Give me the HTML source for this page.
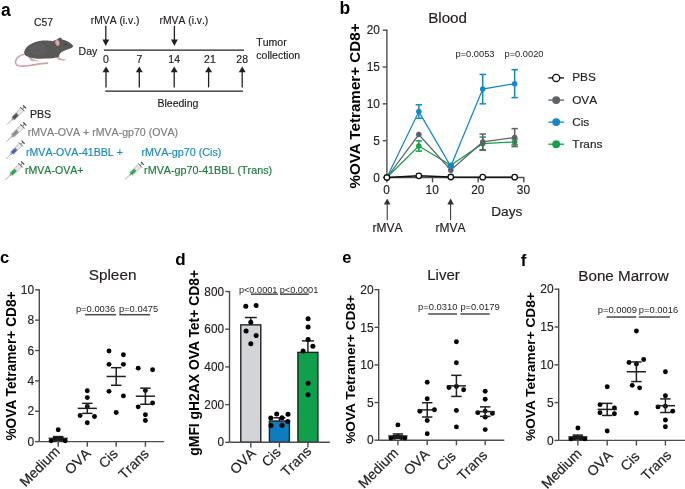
<!DOCTYPE html>
<html><head><meta charset="utf-8"><title>Figure</title>
<style>
html,body{margin:0;padding:0;background:#fff;}
body{width:685px;height:489px;overflow:hidden;}
svg{display:block;will-change:transform;}
svg text{font-family:"Liberation Sans", sans-serif;font-kerning:none;font-feature-settings:"kern" 0;}
</style></head>
<body>
<svg width="685" height="489" viewBox="0 0 685 489">
<rect width="685" height="489" fill="#fff"/>
<text x="1" y="16.1" font-size="17.5" text-anchor="start" font-weight="bold" fill="#000" >a</text>
<text x="34.0" y="26.1" font-size="10.3" text-anchor="start" font-weight="normal" fill="#231f20" stroke="#231f20" stroke-width="0.18" >C57</text>

<g>
<path d="M24,54.3 C21,55 17.5,57 16,59.8 C14.8,62.3 15.8,65 18.5,65.8 C22,66.6 27,65.8 31,65.3 C36,64.5 42,63.4 47.5,63.1" fill="none" stroke="#cfa1a3" stroke-width="1.6" stroke-linecap="round"/>
<path d="M28.5,56.5 C29,58.5 29.8,60 31,60.8 L35,61.3 L38.8,61.4 L38.8,60.6 L35.5,60.2 L33,59 C32,58 31.5,57.3 31.5,56.8 Z" fill="#d5a8a9"/>
<path d="M56.2,57 C56.8,58.6 58,59.8 60,60.3 L63.5,60.5 L65.8,60 L65.6,59.2 L62.5,59 C60.5,58.8 59.5,57.8 59,56.5 Z" fill="#d5a8a9"/>
<path d="M24.2,51.9 C24.6,49 27,46 30.6,44.2 C33.5,42.5 37,41.2 41,40.8 C45,40.4 49.5,40.6 52.5,41.2 C54,40.6 55.5,39.8 57.2,39.5 C58.3,38 59.8,37.4 61.2,37.9 C62,38.4 62,39.2 61.8,39.6 C65,40.2 68.5,41.5 70.8,43.5 C72.2,44.5 73.2,45.3 73.1,46.2 C72.8,47.3 71.5,48 69.5,48.8 C66.5,49.8 63,51 61,52.5 C59.8,53.7 59.2,55 58.8,56.8 C58,57.6 56.8,57.6 55.8,57.4 C55,57.8 53.5,58.1 52,58.2 C49,58.5 46.5,58.2 44,58.6 C40,59 35,58.8 31.5,57.8 C28,57 25.5,55.8 24.6,54.5 C24.2,53.7 24.1,52.8 24.2,51.9 Z" fill="#585858"/>
<ellipse cx="38.5" cy="49.6" rx="8.5" ry="6.2" fill="#5d5d5d"/>
<ellipse cx="57.4" cy="42.9" rx="2.1" ry="2.9" transform="rotate(-15 57.4 42.9)" fill="#d9a7aa"/>
<circle cx="65.8" cy="44.4" r="0.7" fill="#1e1e1e"/>
<circle cx="72.9" cy="46.0" r="0.6" fill="#b89090"/>
<path d="M72.6,45 L75.5,41.5 M72.8,45.3 L76,43" stroke="#dddddd" stroke-width="0.3"/>
</g>
<text x="90.8" y="24.0" font-size="10.3" text-anchor="start" font-weight="normal" fill="#231f20" stroke="#231f20" stroke-width="0.18" >rMVA (i.v.)</text>
<text x="159.6" y="24.0" font-size="10.3" text-anchor="start" font-weight="normal" fill="#231f20" stroke="#231f20" stroke-width="0.18" >rMVA (i.v.)</text>
<line x1="105.8" y1="25.8" x2="105.8" y2="40.0" stroke="#231f20" stroke-width="1.3" />
<path d="M102.39999999999999,39.5 L109.2,39.5 L105.8,46.0 Z" fill="#231f20" stroke="none" stroke-width="0" />
<line x1="174.4" y1="25.8" x2="174.4" y2="40.0" stroke="#231f20" stroke-width="1.3" />
<path d="M171.0,39.5 L177.8,39.5 L174.4,46.0 Z" fill="#231f20" stroke="none" stroke-width="0" />
<line x1="104" y1="50.2" x2="244" y2="50.2" stroke="#231f20" stroke-width="1.3" />
<text x="78.6" y="54.6" font-size="10.5" text-anchor="start" font-weight="normal" fill="#231f20" stroke="#231f20" stroke-width="0.18" >Day</text>
<text x="106.0" y="63.4" font-size="10.5" text-anchor="middle" font-weight="normal" fill="#231f20" stroke="#231f20" stroke-width="0.18" >0</text>
<line x1="106.0" y1="71.8" x2="106.0" y2="87.4" stroke="#231f20" stroke-width="1.3" />
<path d="M102.55,72.3 L109.45,72.3 L106.0,66.5 Z" fill="#231f20" stroke="none" stroke-width="0" />
<text x="139.3" y="63.4" font-size="10.5" text-anchor="middle" font-weight="normal" fill="#231f20" stroke="#231f20" stroke-width="0.18" >7</text>
<line x1="139.3" y1="71.8" x2="139.3" y2="87.4" stroke="#231f20" stroke-width="1.3" />
<path d="M135.85000000000002,72.3 L142.75,72.3 L139.3,66.5 Z" fill="#231f20" stroke="none" stroke-width="0" />
<text x="174.2" y="63.4" font-size="10.5" text-anchor="middle" font-weight="normal" fill="#231f20" stroke="#231f20" stroke-width="0.18" >14</text>
<line x1="174.2" y1="71.8" x2="174.2" y2="87.4" stroke="#231f20" stroke-width="1.3" />
<path d="M170.75,72.3 L177.64999999999998,72.3 L174.2,66.5 Z" fill="#231f20" stroke="none" stroke-width="0" />
<text x="209.9" y="63.4" font-size="10.5" text-anchor="middle" font-weight="normal" fill="#231f20" stroke="#231f20" stroke-width="0.18" >21</text>
<line x1="208.6" y1="71.8" x2="208.6" y2="87.4" stroke="#231f20" stroke-width="1.3" />
<path d="M205.15,72.3 L212.04999999999998,72.3 L208.6,66.5 Z" fill="#231f20" stroke="none" stroke-width="0" />
<text x="242.2" y="63.4" font-size="10.5" text-anchor="middle" font-weight="normal" fill="#231f20" stroke="#231f20" stroke-width="0.18" >28</text>
<line x1="242.2" y1="71.8" x2="242.2" y2="87.4" stroke="#231f20" stroke-width="1.3" />
<path d="M238.75,72.3 L245.64999999999998,72.3 L242.2,66.5 Z" fill="#231f20" stroke="none" stroke-width="0" />
<line x1="105.2" y1="91.1" x2="243" y2="91.1" stroke="#231f20" stroke-width="1.3" />
<text x="157.5" y="106.9" font-size="10.5" text-anchor="start" font-weight="normal" fill="#231f20" stroke="#231f20" stroke-width="0.18" >Bleeding</text>
<text x="256.3" y="46.2" font-size="10.5" text-anchor="start" font-weight="normal" fill="#231f20" stroke="#231f20" stroke-width="0.18" >Tumor</text>
<text x="256.3" y="59.3" font-size="10.5" text-anchor="start" font-weight="normal" fill="#231f20" stroke="#231f20" stroke-width="0.18" >collection</text>
<g transform="translate(7.20,124.60) rotate(-45.62) scale(1.074)"><line x1="0" y1="0" x2="7" y2="0" stroke="#8a8a8a" stroke-width="0.65"/><rect x="6.3" y="-0.85" width="1.6" height="1.7" fill="#999"/><rect x="7.8" y="-1.85" width="12.2" height="3.7" fill="#efefef" stroke="#9c9c9c" stroke-width="0.5"/><rect x="8.0" y="-1.6" width="5.0" height="3.2" fill="#505050"/><rect x="13.0" y="-1.6" width="0.8" height="3.2" fill="#666"/><line x1="14.8" y1="-1.85" x2="14.8" y2="0.2" stroke="#aaa" stroke-width="0.35"/><line x1="16.3" y1="-1.85" x2="16.3" y2="0.2" stroke="#aaa" stroke-width="0.35"/><line x1="17.8" y1="-1.85" x2="17.8" y2="0.2" stroke="#aaa" stroke-width="0.35"/><line x1="20.1" y1="-2.8" x2="20.1" y2="2.8" stroke="#6a6a6a" stroke-width="0.9"/><line x1="20.1" y1="0" x2="22.8" y2="0" stroke="#808080" stroke-width="0.9"/><line x1="23.1" y1="-2.1" x2="23.1" y2="2.1" stroke="#555" stroke-width="1.2"/></g>
<text x="29.9" y="117.9" font-size="10.6" text-anchor="start" font-weight="normal" fill="#231f20" stroke="#231f20" stroke-width="0.18" >PBS</text>
<g transform="translate(6.50,141.70) rotate(-44.10) scale(1.103)"><line x1="0" y1="0" x2="7" y2="0" stroke="#8a8a8a" stroke-width="0.65"/><rect x="6.3" y="-0.85" width="1.6" height="1.7" fill="#999"/><rect x="7.8" y="-1.85" width="12.2" height="3.7" fill="#efefef" stroke="#9c9c9c" stroke-width="0.5"/><rect x="8.0" y="-1.6" width="5.0" height="3.2" fill="#909090"/><rect x="13.0" y="-1.6" width="0.8" height="3.2" fill="#666"/><line x1="14.8" y1="-1.85" x2="14.8" y2="0.2" stroke="#aaa" stroke-width="0.35"/><line x1="16.3" y1="-1.85" x2="16.3" y2="0.2" stroke="#aaa" stroke-width="0.35"/><line x1="17.8" y1="-1.85" x2="17.8" y2="0.2" stroke="#aaa" stroke-width="0.35"/><line x1="20.1" y1="-2.8" x2="20.1" y2="2.8" stroke="#6a6a6a" stroke-width="0.9"/><line x1="20.1" y1="0" x2="22.8" y2="0" stroke="#808080" stroke-width="0.9"/><line x1="23.1" y1="-2.1" x2="23.1" y2="2.1" stroke="#555" stroke-width="1.2"/></g>
<text x="27.7" y="135.8" font-size="10.6" text-anchor="start" font-weight="normal" fill="#7f7f7f" stroke="#7f7f7f" stroke-width="0.18" >rMVA-OVA + rMVA-gp70 (OVA)</text>
<g transform="translate(6.20,158.90) rotate(-44.68) scale(1.027)"><line x1="0" y1="0" x2="7" y2="0" stroke="#8a8a8a" stroke-width="0.65"/><rect x="6.3" y="-0.85" width="1.6" height="1.7" fill="#999"/><rect x="7.8" y="-1.85" width="12.2" height="3.7" fill="#efefef" stroke="#9c9c9c" stroke-width="0.5"/><rect x="8.0" y="-1.6" width="5.0" height="3.2" fill="#4862c2"/><rect x="13.0" y="-1.6" width="0.8" height="3.2" fill="#666"/><line x1="14.8" y1="-1.85" x2="14.8" y2="0.2" stroke="#aaa" stroke-width="0.35"/><line x1="16.3" y1="-1.85" x2="16.3" y2="0.2" stroke="#aaa" stroke-width="0.35"/><line x1="17.8" y1="-1.85" x2="17.8" y2="0.2" stroke="#aaa" stroke-width="0.35"/><line x1="20.1" y1="-2.8" x2="20.1" y2="2.8" stroke="#6a6a6a" stroke-width="0.9"/><line x1="20.1" y1="0" x2="22.8" y2="0" stroke="#808080" stroke-width="0.9"/><line x1="23.1" y1="-2.1" x2="23.1" y2="2.1" stroke="#555" stroke-width="1.2"/></g>
<text x="26.0" y="156.0" font-size="10.6" text-anchor="start" font-weight="normal" fill="#1e88c4" stroke="#1e88c4" stroke-width="0.18" >rMVA-OVA-41BBL +</text>
<text x="141.5" y="155.8" font-size="10.72" text-anchor="start" font-weight="normal" fill="#1e88c4" stroke="#1e88c4" stroke-width="0.18" >rMVA-gp70 (Cis)</text>
<g transform="translate(5.20,180.00) rotate(-44.06) scale(1.056)"><line x1="0" y1="0" x2="7" y2="0" stroke="#8a8a8a" stroke-width="0.65"/><rect x="6.3" y="-0.85" width="1.6" height="1.7" fill="#999"/><rect x="7.8" y="-1.85" width="12.2" height="3.7" fill="#efefef" stroke="#9c9c9c" stroke-width="0.5"/><rect x="8.0" y="-1.6" width="5.0" height="3.2" fill="#21b04b"/><rect x="13.0" y="-1.6" width="0.8" height="3.2" fill="#666"/><line x1="14.8" y1="-1.85" x2="14.8" y2="0.2" stroke="#aaa" stroke-width="0.35"/><line x1="16.3" y1="-1.85" x2="16.3" y2="0.2" stroke="#aaa" stroke-width="0.35"/><line x1="17.8" y1="-1.85" x2="17.8" y2="0.2" stroke="#aaa" stroke-width="0.35"/><line x1="20.1" y1="-2.8" x2="20.1" y2="2.8" stroke="#6a6a6a" stroke-width="0.9"/><line x1="20.1" y1="0" x2="22.8" y2="0" stroke="#808080" stroke-width="0.9"/><line x1="23.1" y1="-2.1" x2="23.1" y2="2.1" stroke="#555" stroke-width="1.2"/></g>
<text x="24.9" y="173.9" font-size="10.6" text-anchor="start" font-weight="normal" fill="#1f7a3f" stroke="#1f7a3f" stroke-width="0.18" >rMVA-OVA+</text>
<g transform="translate(125.00,179.40) rotate(-42.74) scale(1.022)"><line x1="0" y1="0" x2="7" y2="0" stroke="#8a8a8a" stroke-width="0.65"/><rect x="6.3" y="-0.85" width="1.6" height="1.7" fill="#999"/><rect x="7.8" y="-1.85" width="12.2" height="3.7" fill="#efefef" stroke="#9c9c9c" stroke-width="0.5"/><rect x="8.0" y="-1.6" width="5.0" height="3.2" fill="#21b04b"/><rect x="13.0" y="-1.6" width="0.8" height="3.2" fill="#666"/><line x1="14.8" y1="-1.85" x2="14.8" y2="0.2" stroke="#aaa" stroke-width="0.35"/><line x1="16.3" y1="-1.85" x2="16.3" y2="0.2" stroke="#aaa" stroke-width="0.35"/><line x1="17.8" y1="-1.85" x2="17.8" y2="0.2" stroke="#aaa" stroke-width="0.35"/><line x1="20.1" y1="-2.8" x2="20.1" y2="2.8" stroke="#6a6a6a" stroke-width="0.9"/><line x1="20.1" y1="0" x2="22.8" y2="0" stroke="#808080" stroke-width="0.9"/><line x1="23.1" y1="-2.1" x2="23.1" y2="2.1" stroke="#555" stroke-width="1.2"/></g>
<text x="144.1" y="174.2" font-size="10.77" text-anchor="start" font-weight="normal" fill="#1f7a3f" stroke="#1f7a3f" stroke-width="0.18" >rMVA-gp70-41BBL (Trans)</text>
<text x="339.5" y="14.0" font-size="17.5" text-anchor="start" font-weight="bold" fill="#000" >b</text>
<text x="447.6" y="22.9" font-size="15.2" text-anchor="middle" font-weight="normal" fill="#231f20" stroke="#231f20" stroke-width="0.18" >Blood</text>
<line x1="386.9" y1="29.599999999999987" x2="386.9" y2="177.5" stroke="#4d4d4f" stroke-width="1.4" />
<line x1="382.7" y1="177.5" x2="386.9" y2="177.5" stroke="#4d4d4f" stroke-width="1.4" />
<text x="0" y="0" font-size="11.9" text-anchor="end" fill="#231f20" stroke="#231f20" stroke-width="0.16" transform="translate(379.90,181.66) scale(1,1.14)">0</text>
<line x1="382.7" y1="140.675" x2="386.9" y2="140.675" stroke="#4d4d4f" stroke-width="1.4" />
<text x="0" y="0" font-size="11.9" text-anchor="end" fill="#231f20" stroke="#231f20" stroke-width="0.16" transform="translate(379.90,144.83) scale(1,1.14)">5</text>
<line x1="382.7" y1="103.85" x2="386.9" y2="103.85" stroke="#4d4d4f" stroke-width="1.4" />
<text x="0" y="0" font-size="11.9" text-anchor="end" fill="#231f20" stroke="#231f20" stroke-width="0.16" transform="translate(379.90,108.01) scale(1,1.14)">10</text>
<line x1="382.7" y1="67.02499999999999" x2="386.9" y2="67.02499999999999" stroke="#4d4d4f" stroke-width="1.4" />
<text x="0" y="0" font-size="11.9" text-anchor="end" fill="#231f20" stroke="#231f20" stroke-width="0.16" transform="translate(379.90,71.18) scale(1,1.14)">15</text>
<line x1="382.7" y1="30.19999999999999" x2="386.9" y2="30.19999999999999" stroke="#4d4d4f" stroke-width="1.4" />
<text x="0" y="0" font-size="11.9" text-anchor="end" fill="#231f20" stroke="#231f20" stroke-width="0.16" transform="translate(379.90,34.36) scale(1,1.14)">20</text>
<line x1="386.9" y1="177.5" x2="524.39" y2="177.5" stroke="#4d4d4f" stroke-width="1.4" />
<line x1="386.9" y1="177.5" x2="386.9" y2="182.4" stroke="#4d4d4f" stroke-width="1.4" />
<text x="0" y="0" font-size="11.9" text-anchor="middle" fill="#231f20" stroke="#231f20" stroke-width="0.16" transform="translate(386.60,194.16) scale(1,1.14)">0</text>
<line x1="432.53" y1="177.5" x2="432.53" y2="182.4" stroke="#4d4d4f" stroke-width="1.4" />
<text x="0" y="0" font-size="11.9" text-anchor="middle" fill="#231f20" stroke="#231f20" stroke-width="0.16" transform="translate(432.23,194.16) scale(1,1.14)">10</text>
<line x1="478.15999999999997" y1="177.5" x2="478.15999999999997" y2="182.4" stroke="#4d4d4f" stroke-width="1.4" />
<text x="0" y="0" font-size="11.9" text-anchor="middle" fill="#231f20" stroke="#231f20" stroke-width="0.16" transform="translate(477.86,194.16) scale(1,1.14)">20</text>
<line x1="523.79" y1="177.5" x2="523.79" y2="182.4" stroke="#4d4d4f" stroke-width="1.4" />
<text x="0" y="0" font-size="11.9" text-anchor="middle" fill="#231f20" stroke="#231f20" stroke-width="0.16" transform="translate(523.49,194.16) scale(1,1.14)">30</text>
<text x="491.3" y="215.9" font-size="13.6" text-anchor="start" font-weight="normal" fill="#231f20" stroke="#231f20" stroke-width="0.18" >Days</text>
<text x="0" y="0" font-size="15.2" text-anchor="middle" font-weight="bold" fill="#000" style="font-kerning:normal;font-feature-settings:normal" transform="translate(359.7,106.0) rotate(-90)">%OVA Tetramer+ CD8+</text>
<line x1="387.2" y1="204.1" x2="387.2" y2="220.0" stroke="#333" stroke-width="1.05" />
<path d="M383.9,204.6 L390.5,204.6 L387.2,198.6 Z" fill="#333" stroke="none" stroke-width="0" />
<line x1="450.6" y1="204.1" x2="450.6" y2="220.0" stroke="#333" stroke-width="1.05" />
<path d="M447.3,204.6 L453.90000000000003,204.6 L450.6,198.6 Z" fill="#333" stroke="none" stroke-width="0" />
<text x="387.4" y="232.4" font-size="12.0" text-anchor="middle" font-weight="normal" fill="#231f20" stroke="#231f20" stroke-width="0.18" >rMVA</text>
<text x="450.5" y="232.4" font-size="12.0" text-anchor="middle" font-weight="normal" fill="#231f20" stroke="#231f20" stroke-width="0.18" >rMVA</text>
<text x="455.5" y="57.3" font-size="9.3" text-anchor="start" font-weight="normal" fill="#231f20" >p=0.0053</text>
<text x="504.5" y="56.6" font-size="9.3" text-anchor="start" font-weight="normal" fill="#231f20" >p=0.0020</text>
<polyline points="386.90,177.50 418.84,145.98 450.78,165.35 482.72,143.69 514.66,141.93" fill="none" stroke="#17a049" stroke-width="1.25"/>
<circle cx="386.9" cy="177.5" r="2.75" fill="#17a049" stroke="none" stroke-width="0"/>
<line x1="418.84099999999995" y1="140.82229999999998" x2="418.84099999999995" y2="151.1333" stroke="#17a049" stroke-width="1.5" />
<line x1="415.64099999999996" y1="140.82229999999998" x2="422.04099999999994" y2="140.82229999999998" stroke="#17a049" stroke-width="1.5" />
<line x1="415.64099999999996" y1="151.1333" x2="422.04099999999994" y2="151.1333" stroke="#17a049" stroke-width="1.5" />
<circle cx="418.84099999999995" cy="145.9778" r="2.75" fill="#17a049" stroke="none" stroke-width="0"/>
<line x1="450.782" y1="163.87475" x2="450.782" y2="166.82075" stroke="#17a049" stroke-width="1.5" />
<line x1="447.582" y1="163.87475" x2="453.98199999999997" y2="163.87475" stroke="#17a049" stroke-width="1.5" />
<line x1="447.582" y1="166.82075" x2="453.98199999999997" y2="166.82075" stroke="#17a049" stroke-width="1.5" />
<circle cx="450.782" cy="165.34775" r="2.75" fill="#17a049" stroke="none" stroke-width="0"/>
<line x1="482.72299999999996" y1="137.06615" x2="482.72299999999996" y2="150.32315" stroke="#17a049" stroke-width="1.5" />
<line x1="479.52299999999997" y1="137.06615" x2="485.92299999999994" y2="137.06615" stroke="#17a049" stroke-width="1.5" />
<line x1="479.52299999999997" y1="150.32315" x2="485.92299999999994" y2="150.32315" stroke="#17a049" stroke-width="1.5" />
<circle cx="482.72299999999996" cy="143.69465" r="2.75" fill="#17a049" stroke="none" stroke-width="0"/>
<line x1="514.664" y1="138.98104999999998" x2="514.664" y2="144.87305" stroke="#17a049" stroke-width="1.5" />
<line x1="511.464" y1="138.98104999999998" x2="517.864" y2="138.98104999999998" stroke="#17a049" stroke-width="1.5" />
<line x1="511.464" y1="144.87305" x2="517.864" y2="144.87305" stroke="#17a049" stroke-width="1.5" />
<circle cx="514.664" cy="141.92705" r="2.75" fill="#17a049" stroke="none" stroke-width="0"/>
<polyline points="386.90,177.50 418.84,134.56 450.78,170.13 482.72,141.93 514.66,137.58" fill="none" stroke="#5e6166" stroke-width="1.25"/>
<circle cx="386.9" cy="177.5" r="2.75" fill="#5e6166" stroke="none" stroke-width="0"/>
<circle cx="418.84099999999995" cy="134.56205" r="2.75" fill="#5e6166" stroke="none" stroke-width="0"/>
<circle cx="450.782" cy="170.135" r="2.75" fill="#5e6166" stroke="none" stroke-width="0"/>
<line x1="482.72299999999996" y1="134.04649999999998" x2="482.72299999999996" y2="149.8076" stroke="#5e6166" stroke-width="1.5" />
<line x1="479.52299999999997" y1="134.04649999999998" x2="485.92299999999994" y2="134.04649999999998" stroke="#5e6166" stroke-width="1.5" />
<line x1="479.52299999999997" y1="149.8076" x2="485.92299999999994" y2="149.8076" stroke="#5e6166" stroke-width="1.5" />
<circle cx="482.72299999999996" cy="141.92705" r="2.75" fill="#5e6166" stroke="none" stroke-width="0"/>
<line x1="514.664" y1="128.59640000000002" x2="514.664" y2="146.567" stroke="#5e6166" stroke-width="1.5" />
<line x1="511.464" y1="128.59640000000002" x2="517.864" y2="128.59640000000002" stroke="#5e6166" stroke-width="1.5" />
<line x1="511.464" y1="146.567" x2="517.864" y2="146.567" stroke="#5e6166" stroke-width="1.5" />
<circle cx="514.664" cy="137.5817" r="2.75" fill="#5e6166" stroke="none" stroke-width="0"/>
<polyline points="386.90,177.50 418.84,111.58 450.78,166.23 482.72,89.12 514.66,83.67" fill="none" stroke="#1587c6" stroke-width="1.25"/>
<circle cx="386.9" cy="177.5" r="2.75" fill="#1587c6" stroke="none" stroke-width="0"/>
<line x1="418.84099999999995" y1="104.80745" x2="418.84099999999995" y2="118.35905" stroke="#1587c6" stroke-width="1.5" />
<line x1="415.64099999999996" y1="104.80745" x2="422.04099999999994" y2="104.80745" stroke="#1587c6" stroke-width="1.5" />
<line x1="415.64099999999996" y1="118.35905" x2="422.04099999999994" y2="118.35905" stroke="#1587c6" stroke-width="1.5" />
<circle cx="418.84099999999995" cy="111.58325" r="2.75" fill="#1587c6" stroke="none" stroke-width="0"/>
<line x1="450.782" y1="165.1268" x2="450.782" y2="167.3363" stroke="#1587c6" stroke-width="1.5" />
<line x1="447.582" y1="165.1268" x2="453.98199999999997" y2="165.1268" stroke="#1587c6" stroke-width="1.5" />
<line x1="447.582" y1="167.3363" x2="453.98199999999997" y2="167.3363" stroke="#1587c6" stroke-width="1.5" />
<circle cx="450.782" cy="166.23155" r="2.75" fill="#1587c6" stroke="none" stroke-width="0"/>
<line x1="482.72299999999996" y1="74.39" x2="482.72299999999996" y2="103.85" stroke="#1587c6" stroke-width="1.5" />
<line x1="479.52299999999997" y1="74.39" x2="485.92299999999994" y2="74.39" stroke="#1587c6" stroke-width="1.5" />
<line x1="479.52299999999997" y1="103.85" x2="485.92299999999994" y2="103.85" stroke="#1587c6" stroke-width="1.5" />
<circle cx="482.72299999999996" cy="89.12" r="2.75" fill="#1587c6" stroke="none" stroke-width="0"/>
<line x1="514.664" y1="69.67639999999999" x2="514.664" y2="97.6634" stroke="#1587c6" stroke-width="1.5" />
<line x1="511.464" y1="69.67639999999999" x2="517.864" y2="69.67639999999999" stroke="#1587c6" stroke-width="1.5" />
<line x1="511.464" y1="97.6634" x2="517.864" y2="97.6634" stroke="#1587c6" stroke-width="1.5" />
<circle cx="514.664" cy="83.6699" r="2.75" fill="#1587c6" stroke="none" stroke-width="0"/>
<polyline points="386.90,177.50 418.84,175.81 450.78,176.98 482.72,177.21 514.66,177.21" fill="none" stroke="#111" stroke-width="1.5"/>
<circle cx="386.9" cy="177.5" r="2.75" fill="#fff" stroke="#111" stroke-width="1.3"/>
<circle cx="418.84099999999995" cy="175.80605" r="2.75" fill="#fff" stroke="#111" stroke-width="1.3"/>
<circle cx="450.782" cy="176.98445" r="2.75" fill="#fff" stroke="#111" stroke-width="1.3"/>
<circle cx="482.72299999999996" cy="177.2054" r="2.75" fill="#fff" stroke="#111" stroke-width="1.3"/>
<circle cx="514.664" cy="177.2054" r="2.75" fill="#fff" stroke="#111" stroke-width="1.3"/>
<line x1="548.3" y1="77.9" x2="564.0" y2="77.9" stroke="#111" stroke-width="1.3" />
<circle cx="556.2" cy="77.9" r="3.55" fill="#fff" stroke="#111" stroke-width="1.35"/>
<text x="572.2" y="81.4" font-size="11.8" text-anchor="start" font-weight="normal" fill="#231f20" stroke="#231f20" stroke-width="0.18" >PBS</text>
<line x1="548.3" y1="100.1" x2="564.0" y2="100.1" stroke="#5e6166" stroke-width="1.3" />
<circle cx="556.2" cy="100.1" r="3.95" fill="#5e6166" stroke="none" stroke-width="0"/>
<text x="572.2" y="103.6" font-size="11.8" text-anchor="start" font-weight="normal" fill="#231f20" stroke="#231f20" stroke-width="0.18" >OVA</text>
<line x1="548.3" y1="122.1" x2="564.0" y2="122.1" stroke="#1587c6" stroke-width="1.3" />
<circle cx="556.2" cy="122.1" r="3.95" fill="#1587c6" stroke="none" stroke-width="0"/>
<text x="572.2" y="125.6" font-size="11.8" text-anchor="start" font-weight="normal" fill="#231f20" stroke="#231f20" stroke-width="0.18" >Cis</text>
<line x1="548.3" y1="144.2" x2="564.0" y2="144.2" stroke="#17a049" stroke-width="1.3" />
<circle cx="556.2" cy="144.2" r="3.95" fill="#17a049" stroke="none" stroke-width="0"/>
<text x="572.2" y="147.7" font-size="11.8" text-anchor="start" font-weight="normal" fill="#231f20" stroke="#231f20" stroke-width="0.18" >Trans</text>
<text x="0" y="263.4" font-size="16.5" text-anchor="start" font-weight="bold" fill="#000" >c</text>
<text x="112.6" y="280.3" font-size="15.3" text-anchor="middle" font-weight="normal" fill="#231f20" stroke="#231f20" stroke-width="0.18" >Spleen</text>
<text x="0" y="0" font-size="13.72" text-anchor="middle" font-weight="bold" fill="#000" style="font-kerning:normal;font-feature-settings:normal" transform="translate(15.6,366.0) rotate(-90)">%OVA Tetramer+ CD8+</text>
<line x1="39.3" y1="289.2" x2="39.3" y2="441.6" stroke="#4d4d4f" stroke-width="1.4" />
<line x1="35.099999999999994" y1="441.6" x2="39.3" y2="441.6" stroke="#4d4d4f" stroke-width="1.4" />
<text x="0" y="0" font-size="12.0" text-anchor="end" fill="#231f20" stroke="#231f20" stroke-width="0.16" transform="translate(34.20,445.80) scale(1,1.14)">0</text>
<line x1="35.099999999999994" y1="411.24" x2="39.3" y2="411.24" stroke="#4d4d4f" stroke-width="1.4" />
<text x="0" y="0" font-size="12.0" text-anchor="end" fill="#231f20" stroke="#231f20" stroke-width="0.16" transform="translate(34.20,415.44) scale(1,1.14)">2</text>
<line x1="35.099999999999994" y1="380.88" x2="39.3" y2="380.88" stroke="#4d4d4f" stroke-width="1.4" />
<text x="0" y="0" font-size="12.0" text-anchor="end" fill="#231f20" stroke="#231f20" stroke-width="0.16" transform="translate(34.20,385.08) scale(1,1.14)">4</text>
<line x1="35.099999999999994" y1="350.52" x2="39.3" y2="350.52" stroke="#4d4d4f" stroke-width="1.4" />
<text x="0" y="0" font-size="12.0" text-anchor="end" fill="#231f20" stroke="#231f20" stroke-width="0.16" transform="translate(34.20,354.72) scale(1,1.14)">6</text>
<line x1="35.099999999999994" y1="320.16" x2="39.3" y2="320.16" stroke="#4d4d4f" stroke-width="1.4" />
<text x="0" y="0" font-size="12.0" text-anchor="end" fill="#231f20" stroke="#231f20" stroke-width="0.16" transform="translate(34.20,324.36) scale(1,1.14)">8</text>
<line x1="35.099999999999994" y1="289.8" x2="39.3" y2="289.8" stroke="#4d4d4f" stroke-width="1.4" />
<text x="0" y="0" font-size="12.0" text-anchor="end" fill="#231f20" stroke="#231f20" stroke-width="0.16" transform="translate(34.20,294.00) scale(1,1.14)">10</text>
<line x1="39.3" y1="441.6" x2="164.0" y2="441.6" stroke="#4d4d4f" stroke-width="1.4" />
<line x1="58.2" y1="441.6" x2="58.2" y2="446.70000000000005" stroke="#4d4d4f" stroke-width="1.4" />
<line x1="87.3" y1="441.6" x2="87.3" y2="446.70000000000005" stroke="#4d4d4f" stroke-width="1.4" />
<line x1="116.2" y1="441.6" x2="116.2" y2="446.70000000000005" stroke="#4d4d4f" stroke-width="1.4" />
<line x1="145.4" y1="441.6" x2="145.4" y2="446.70000000000005" stroke="#4d4d4f" stroke-width="1.4" />
<text x="0" y="0" font-size="14.0" text-anchor="end" fill="#231f20" stroke="#231f20" stroke-width="0.22" transform="translate(60.80,452.20) rotate(-45)">Medium</text>
<text x="0" y="0" font-size="14.0" text-anchor="end" fill="#231f20" stroke="#231f20" stroke-width="0.22" transform="translate(91.50,454.30) rotate(-45)">OVA</text>
<text x="0" y="0" font-size="14.0" text-anchor="end" fill="#231f20" stroke="#231f20" stroke-width="0.22" transform="translate(118.70,454.60) rotate(-45)">Cis</text>
<text x="0" y="0" font-size="14.0" text-anchor="end" fill="#231f20" stroke="#231f20" stroke-width="0.22" transform="translate(149.60,454.60) rotate(-45)">Trans</text>
<circle cx="58.2" cy="429.75960000000003" r="2.45" fill="#000" stroke="none" stroke-width="0"/>
<circle cx="51.2" cy="440.841" r="2.45" fill="#000" stroke="none" stroke-width="0"/>
<circle cx="65.2" cy="440.841" r="2.45" fill="#000" stroke="none" stroke-width="0"/>
<circle cx="54.7" cy="439.32300000000004" r="2.45" fill="#000" stroke="none" stroke-width="0"/>
<circle cx="61.7" cy="439.32300000000004" r="2.45" fill="#000" stroke="none" stroke-width="0"/>
<circle cx="58.2" cy="438.564" r="2.45" fill="#000" stroke="none" stroke-width="0"/>
<line x1="48.6" y1="438.41220000000004" x2="67.8" y2="438.41220000000004" stroke="#231f20" stroke-width="1.5" />
<line x1="58.2" y1="436.5906" x2="58.2" y2="440.23380000000003" stroke="#231f20" stroke-width="1.5" />
<line x1="53.0" y1="436.5906" x2="63.400000000000006" y2="436.5906" stroke="#231f20" stroke-width="1.5" />
<line x1="53.0" y1="440.23380000000003" x2="63.400000000000006" y2="440.23380000000003" stroke="#231f20" stroke-width="1.5" />
<circle cx="87.3" cy="390.747" r="2.45" fill="#000" stroke="none" stroke-width="0"/>
<circle cx="87.3" cy="397.57800000000003" r="2.45" fill="#000" stroke="none" stroke-width="0"/>
<circle cx="87.3" cy="406.5342" r="2.45" fill="#000" stroke="none" stroke-width="0"/>
<circle cx="80.1" cy="415.4904" r="2.45" fill="#000" stroke="none" stroke-width="0"/>
<circle cx="94.5" cy="416.553" r="2.45" fill="#000" stroke="none" stroke-width="0"/>
<circle cx="87.3" cy="422.77680000000004" r="2.45" fill="#000" stroke="none" stroke-width="0"/>
<line x1="77.7" y1="408.35580000000004" x2="96.89999999999999" y2="408.35580000000004" stroke="#231f20" stroke-width="1.5" />
<line x1="87.3" y1="403.3464" x2="87.3" y2="413.3652" stroke="#231f20" stroke-width="1.5" />
<line x1="82.1" y1="403.3464" x2="92.5" y2="403.3464" stroke="#231f20" stroke-width="1.5" />
<line x1="82.1" y1="413.3652" x2="92.5" y2="413.3652" stroke="#231f20" stroke-width="1.5" />
<circle cx="109.0" cy="350.97540000000004" r="2.45" fill="#000" stroke="none" stroke-width="0"/>
<circle cx="123.4" cy="354.7704" r="2.45" fill="#000" stroke="none" stroke-width="0"/>
<circle cx="109.0" cy="364.3338" r="2.45" fill="#000" stroke="none" stroke-width="0"/>
<circle cx="123.4" cy="364.3338" r="2.45" fill="#000" stroke="none" stroke-width="0"/>
<circle cx="109.0" cy="391.3542" r="2.45" fill="#000" stroke="none" stroke-width="0"/>
<circle cx="123.4" cy="395.9082" r="2.45" fill="#000" stroke="none" stroke-width="0"/>
<circle cx="116.2" cy="412.4544" r="2.45" fill="#000" stroke="none" stroke-width="0"/>
<line x1="106.60000000000001" y1="376.4778" x2="125.8" y2="376.4778" stroke="#231f20" stroke-width="1.5" />
<line x1="116.2" y1="367.6734" x2="116.2" y2="385.2822" stroke="#231f20" stroke-width="1.5" />
<line x1="111.0" y1="367.6734" x2="121.4" y2="367.6734" stroke="#231f20" stroke-width="1.5" />
<line x1="111.0" y1="385.2822" x2="121.4" y2="385.2822" stroke="#231f20" stroke-width="1.5" />
<circle cx="138.20000000000002" cy="368.1288" r="2.45" fill="#000" stroke="none" stroke-width="0"/>
<circle cx="152.6" cy="369.7986" r="2.45" fill="#000" stroke="none" stroke-width="0"/>
<circle cx="145.4" cy="390.59520000000003" r="2.45" fill="#000" stroke="none" stroke-width="0"/>
<circle cx="138.20000000000002" cy="406.8378" r="2.45" fill="#000" stroke="none" stroke-width="0"/>
<circle cx="152.6" cy="403.0428" r="2.45" fill="#000" stroke="none" stroke-width="0"/>
<circle cx="145.4" cy="414.7314" r="2.45" fill="#000" stroke="none" stroke-width="0"/>
<circle cx="145.4" cy="420.49980000000005" r="2.45" fill="#000" stroke="none" stroke-width="0"/>
<line x1="135.8" y1="396.21180000000004" x2="155.0" y2="396.21180000000004" stroke="#231f20" stroke-width="1.5" />
<line x1="145.4" y1="388.1664" x2="145.4" y2="404.2572" stroke="#231f20" stroke-width="1.5" />
<line x1="140.20000000000002" y1="388.1664" x2="150.6" y2="388.1664" stroke="#231f20" stroke-width="1.5" />
<line x1="140.20000000000002" y1="404.2572" x2="150.6" y2="404.2572" stroke="#231f20" stroke-width="1.5" />
<line x1="85.1" y1="314.7" x2="116.2" y2="314.7" stroke="#4a4a4a" stroke-width="1.5" />
<line x1="119.3" y1="314.7" x2="150.1" y2="314.7" stroke="#4a4a4a" stroke-width="1.5" />
<text x="75.9" y="311.8" font-size="9.4" text-anchor="start" font-weight="normal" fill="#231f20" >p=0.0036</text>
<text x="118.9" y="311.8" font-size="9.4" text-anchor="start" font-weight="normal" fill="#231f20" >p=0.0475</text>
<text x="175.2" y="264.9" font-size="17" text-anchor="start" font-weight="bold" fill="#000" >d</text>
<text x="0" y="0" font-size="13.9" text-anchor="middle" font-weight="bold" fill="#000" style="font-kerning:normal;font-feature-settings:normal" transform="translate(198.8,362.8) rotate(-90)">gMFI gH2AX OVA Tet+ CD8+</text>
<line x1="250.8" y1="317.51300000000003" x2="250.8" y2="324.8645" stroke="#231f20" stroke-width="1.5" />
<line x1="244.8" y1="317.51300000000003" x2="256.8" y2="317.51300000000003" stroke="#231f20" stroke-width="1.5" />
<rect x="240.80" y="324.86" width="20" height="117.44" fill="#d3d4d8" stroke="#222" stroke-width="1.4"/>
<line x1="279.4" y1="417.795" x2="279.4" y2="420.9995" stroke="#231f20" stroke-width="1.5" />
<line x1="273.4" y1="417.795" x2="285.4" y2="417.795" stroke="#231f20" stroke-width="1.5" />
<rect x="269.40" y="421.00" width="20" height="21.30" fill="#0b7dc0" stroke="#222" stroke-width="1.4"/>
<line x1="307.9" y1="340.887" x2="307.9" y2="352.3855" stroke="#231f20" stroke-width="1.5" />
<line x1="301.9" y1="340.887" x2="313.9" y2="340.887" stroke="#231f20" stroke-width="1.5" />
<rect x="297.90" y="352.39" width="20" height="89.91" fill="#0ea04a" stroke="#222" stroke-width="1.4"/>
<line x1="229.5" y1="290.9" x2="229.5" y2="442.3" stroke="#4d4d4f" stroke-width="1.4" />
<line x1="225.3" y1="442.3" x2="229.5" y2="442.3" stroke="#4d4d4f" stroke-width="1.4" />
<text x="0" y="0" font-size="11.8" text-anchor="end" fill="#231f20" stroke="#231f20" stroke-width="0.16" transform="translate(224.00,446.42) scale(1,1.14)">0</text>
<line x1="225.3" y1="404.6" x2="229.5" y2="404.6" stroke="#4d4d4f" stroke-width="1.4" />
<text x="0" y="0" font-size="11.8" text-anchor="end" fill="#231f20" stroke="#231f20" stroke-width="0.16" transform="translate(224.00,408.72) scale(1,1.14)">200</text>
<line x1="225.3" y1="366.9" x2="229.5" y2="366.9" stroke="#4d4d4f" stroke-width="1.4" />
<text x="0" y="0" font-size="11.8" text-anchor="end" fill="#231f20" stroke="#231f20" stroke-width="0.16" transform="translate(224.00,371.02) scale(1,1.14)">400</text>
<line x1="225.3" y1="329.20000000000005" x2="229.5" y2="329.20000000000005" stroke="#4d4d4f" stroke-width="1.4" />
<text x="0" y="0" font-size="11.8" text-anchor="end" fill="#231f20" stroke="#231f20" stroke-width="0.16" transform="translate(224.00,333.32) scale(1,1.14)">600</text>
<line x1="225.3" y1="291.5" x2="229.5" y2="291.5" stroke="#4d4d4f" stroke-width="1.4" />
<text x="0" y="0" font-size="11.8" text-anchor="end" fill="#231f20" stroke="#231f20" stroke-width="0.16" transform="translate(224.00,295.62) scale(1,1.14)">800</text>
<line x1="229.5" y1="442.3" x2="329.8" y2="442.3" stroke="#4d4d4f" stroke-width="1.4" />
<line x1="250.8" y1="442.3" x2="250.8" y2="447.40000000000003" stroke="#4d4d4f" stroke-width="1.4" />
<line x1="279.4" y1="442.3" x2="279.4" y2="447.40000000000003" stroke="#4d4d4f" stroke-width="1.4" />
<line x1="307.9" y1="442.3" x2="307.9" y2="447.40000000000003" stroke="#4d4d4f" stroke-width="1.4" />
<text x="0" y="0" font-size="14.0" text-anchor="end" fill="#231f20" stroke="#231f20" stroke-width="0.22" transform="translate(256.70,454.10) rotate(-45)">OVA</text>
<text x="0" y="0" font-size="14.0" text-anchor="end" fill="#231f20" stroke="#231f20" stroke-width="0.22" transform="translate(281.70,453.10) rotate(-45)">Cis</text>
<text x="0" y="0" font-size="14.0" text-anchor="end" fill="#231f20" stroke="#231f20" stroke-width="0.22" transform="translate(312.10,452.00) rotate(-45)">Trans</text>
<circle cx="245.8" cy="306.2" r="2.5" fill="#000" stroke="none" stroke-width="0"/>
<circle cx="256.1" cy="305.5" r="2.5" fill="#000" stroke="none" stroke-width="0"/>
<circle cx="250.8" cy="322.2" r="2.5" fill="#000" stroke="none" stroke-width="0"/>
<circle cx="246.1" cy="331.1" r="2.5" fill="#000" stroke="none" stroke-width="0"/>
<circle cx="256.1" cy="335.6" r="2.5" fill="#000" stroke="none" stroke-width="0"/>
<circle cx="250.8" cy="343.7" r="2.5" fill="#000" stroke="none" stroke-width="0"/>
<circle cx="276.7" cy="414.0" r="2.5" fill="#000" stroke="none" stroke-width="0"/>
<circle cx="288.0" cy="414.2" r="2.5" fill="#000" stroke="none" stroke-width="0"/>
<circle cx="270.8" cy="417.9" r="2.5" fill="#000" stroke="none" stroke-width="0"/>
<circle cx="282.0" cy="417.7" r="2.5" fill="#000" stroke="none" stroke-width="0"/>
<circle cx="287.8" cy="421.4" r="2.5" fill="#000" stroke="none" stroke-width="0"/>
<circle cx="271.0" cy="425.4" r="2.5" fill="#000" stroke="none" stroke-width="0"/>
<circle cx="282.0" cy="425.3" r="2.5" fill="#000" stroke="none" stroke-width="0"/>
<circle cx="308.1" cy="318.8" r="2.5" fill="#000" stroke="none" stroke-width="0"/>
<circle cx="308.1" cy="326.9" r="2.5" fill="#000" stroke="none" stroke-width="0"/>
<circle cx="308.1" cy="339.4" r="2.5" fill="#000" stroke="none" stroke-width="0"/>
<circle cx="312.9" cy="346.3" r="2.5" fill="#000" stroke="none" stroke-width="0"/>
<circle cx="303.1" cy="350.9" r="2.5" fill="#000" stroke="none" stroke-width="0"/>
<circle cx="308.1" cy="383.3" r="2.5" fill="#000" stroke="none" stroke-width="0"/>
<circle cx="308.1" cy="394.7" r="2.5" fill="#000" stroke="none" stroke-width="0"/>
<line x1="251.0" y1="294.2" x2="278.0" y2="294.2" stroke="#4a4a4a" stroke-width="1.5" />
<line x1="280.6" y1="294.2" x2="308.8" y2="294.2" stroke="#4a4a4a" stroke-width="1.5" />
<text x="238.9" y="292.5" font-size="9.2" text-anchor="start" font-weight="normal" fill="#231f20" >p&lt;0.0001</text>
<text x="279.7" y="292.5" font-size="9.2" text-anchor="start" font-weight="normal" fill="#231f20" >p&lt;0.0001</text>
<text x="342.2" y="263.4" font-size="16.5" text-anchor="start" font-weight="bold" fill="#000" >e</text>
<text x="443.5" y="279.8" font-size="15.0" text-anchor="middle" font-weight="normal" fill="#231f20" stroke="#231f20" stroke-width="0.18" >Liver</text>
<text x="0" y="0" font-size="13.7" text-anchor="middle" font-weight="bold" fill="#000" style="font-kerning:normal;font-feature-settings:normal" transform="translate(355.4,369.4) rotate(-90)">%OVA Tetramer+ CD8+</text>
<line x1="378.7" y1="289.09999999999997" x2="378.7" y2="440.2" stroke="#4d4d4f" stroke-width="1.4" />
<line x1="374.5" y1="440.2" x2="378.7" y2="440.2" stroke="#4d4d4f" stroke-width="1.4" />
<text x="0" y="0" font-size="12.0" text-anchor="end" fill="#231f20" stroke="#231f20" stroke-width="0.16" transform="translate(373.60,444.40) scale(1,1.14)">0</text>
<line x1="374.5" y1="402.575" x2="378.7" y2="402.575" stroke="#4d4d4f" stroke-width="1.4" />
<text x="0" y="0" font-size="12.0" text-anchor="end" fill="#231f20" stroke="#231f20" stroke-width="0.16" transform="translate(373.60,406.77) scale(1,1.14)">5</text>
<line x1="374.5" y1="364.95" x2="378.7" y2="364.95" stroke="#4d4d4f" stroke-width="1.4" />
<text x="0" y="0" font-size="12.0" text-anchor="end" fill="#231f20" stroke="#231f20" stroke-width="0.16" transform="translate(373.60,369.15) scale(1,1.14)">10</text>
<line x1="374.5" y1="327.325" x2="378.7" y2="327.325" stroke="#4d4d4f" stroke-width="1.4" />
<text x="0" y="0" font-size="12.0" text-anchor="end" fill="#231f20" stroke="#231f20" stroke-width="0.16" transform="translate(373.60,331.52) scale(1,1.14)">15</text>
<line x1="374.5" y1="289.7" x2="378.7" y2="289.7" stroke="#4d4d4f" stroke-width="1.4" />
<text x="0" y="0" font-size="12.0" text-anchor="end" fill="#231f20" stroke="#231f20" stroke-width="0.16" transform="translate(373.60,293.90) scale(1,1.14)">20</text>
<line x1="378.7" y1="440.2" x2="504.3" y2="440.2" stroke="#4d4d4f" stroke-width="1.4" />
<line x1="397.9" y1="440.2" x2="397.9" y2="445.3" stroke="#4d4d4f" stroke-width="1.4" />
<line x1="427.2" y1="440.2" x2="427.2" y2="445.3" stroke="#4d4d4f" stroke-width="1.4" />
<line x1="456.4" y1="440.2" x2="456.4" y2="445.3" stroke="#4d4d4f" stroke-width="1.4" />
<line x1="485.2" y1="440.2" x2="485.2" y2="445.3" stroke="#4d4d4f" stroke-width="1.4" />
<text x="0" y="0" font-size="14.0" text-anchor="end" fill="#231f20" stroke="#231f20" stroke-width="0.22" transform="translate(399.30,453.70) rotate(-45)">Medium</text>
<text x="0" y="0" font-size="14.0" text-anchor="end" fill="#231f20" stroke="#231f20" stroke-width="0.22" transform="translate(430.40,455.20) rotate(-45)">OVA</text>
<text x="0" y="0" font-size="14.0" text-anchor="end" fill="#231f20" stroke="#231f20" stroke-width="0.22" transform="translate(456.70,457.10) rotate(-45)">Cis</text>
<text x="0" y="0" font-size="14.0" text-anchor="end" fill="#231f20" stroke="#231f20" stroke-width="0.22" transform="translate(488.30,456.00) rotate(-45)">Trans</text>
<circle cx="397.9" cy="424.92425" r="2.45" fill="#000" stroke="none" stroke-width="0"/>
<circle cx="390.9" cy="437.9425" r="2.45" fill="#000" stroke="none" stroke-width="0"/>
<circle cx="404.9" cy="437.9425" r="2.45" fill="#000" stroke="none" stroke-width="0"/>
<circle cx="394.4" cy="437.19" r="2.45" fill="#000" stroke="none" stroke-width="0"/>
<circle cx="401.4" cy="437.56624999999997" r="2.45" fill="#000" stroke="none" stroke-width="0"/>
<circle cx="397.9" cy="436.4375" r="2.45" fill="#000" stroke="none" stroke-width="0"/>
<line x1="388.29999999999995" y1="436.06125" x2="407.5" y2="436.06125" stroke="#231f20" stroke-width="1.5" />
<line x1="397.9" y1="433.95425" x2="397.9" y2="438.16825" stroke="#231f20" stroke-width="1.5" />
<line x1="392.7" y1="433.95425" x2="403.09999999999997" y2="433.95425" stroke="#231f20" stroke-width="1.5" />
<line x1="392.7" y1="438.16825" x2="403.09999999999997" y2="438.16825" stroke="#231f20" stroke-width="1.5" />
<circle cx="427.2" cy="382.2575" r="2.45" fill="#000" stroke="none" stroke-width="0"/>
<circle cx="427.2" cy="398.8125" r="2.45" fill="#000" stroke="none" stroke-width="0"/>
<circle cx="419.8" cy="411.304" r="2.45" fill="#000" stroke="none" stroke-width="0"/>
<circle cx="434.4" cy="409.72375" r="2.45" fill="#000" stroke="none" stroke-width="0"/>
<circle cx="427.2" cy="420.48449999999997" r="2.45" fill="#000" stroke="none" stroke-width="0"/>
<circle cx="427.2" cy="433.80375" r="2.45" fill="#000" stroke="none" stroke-width="0"/>
<line x1="417.59999999999997" y1="409.87424999999996" x2="436.8" y2="409.87424999999996" stroke="#231f20" stroke-width="1.5" />
<line x1="427.2" y1="402.7255" x2="427.2" y2="417.02299999999997" stroke="#231f20" stroke-width="1.5" />
<line x1="422.0" y1="402.7255" x2="432.4" y2="402.7255" stroke="#231f20" stroke-width="1.5" />
<line x1="422.0" y1="417.02299999999997" x2="432.4" y2="417.02299999999997" stroke="#231f20" stroke-width="1.5" />
<circle cx="456.4" cy="341.69775" r="2.45" fill="#000" stroke="none" stroke-width="0"/>
<circle cx="456.4" cy="362.6925" r="2.45" fill="#000" stroke="none" stroke-width="0"/>
<circle cx="449.0" cy="387.525" r="2.45" fill="#000" stroke="none" stroke-width="0"/>
<circle cx="456.4" cy="386.39625" r="2.45" fill="#000" stroke="none" stroke-width="0"/>
<circle cx="463.59999999999997" cy="389.78249999999997" r="2.45" fill="#000" stroke="none" stroke-width="0"/>
<circle cx="456.4" cy="410.47625" r="2.45" fill="#000" stroke="none" stroke-width="0"/>
<circle cx="456.4" cy="426.88075" r="2.45" fill="#000" stroke="none" stroke-width="0"/>
<line x1="446.79999999999995" y1="385.8695" x2="466.0" y2="385.8695" stroke="#231f20" stroke-width="1.5" />
<line x1="456.4" y1="375.3345" x2="456.4" y2="396.4045" stroke="#231f20" stroke-width="1.5" />
<line x1="451.2" y1="375.3345" x2="461.59999999999997" y2="375.3345" stroke="#231f20" stroke-width="1.5" />
<line x1="451.2" y1="396.4045" x2="461.59999999999997" y2="396.4045" stroke="#231f20" stroke-width="1.5" />
<circle cx="485.2" cy="391.28749999999997" r="2.45" fill="#000" stroke="none" stroke-width="0"/>
<circle cx="485.2" cy="399.18874999999997" r="2.45" fill="#000" stroke="none" stroke-width="0"/>
<circle cx="477.8" cy="412.6585" r="2.45" fill="#000" stroke="none" stroke-width="0"/>
<circle cx="485.2" cy="411.07824999999997" r="2.45" fill="#000" stroke="none" stroke-width="0"/>
<circle cx="492.4" cy="413.411" r="2.45" fill="#000" stroke="none" stroke-width="0"/>
<circle cx="485.2" cy="417.1735" r="2.45" fill="#000" stroke="none" stroke-width="0"/>
<circle cx="485.2" cy="429.58975" r="2.45" fill="#000" stroke="none" stroke-width="0"/>
<line x1="475.59999999999997" y1="411.605" x2="494.8" y2="411.605" stroke="#231f20" stroke-width="1.5" />
<line x1="485.2" y1="406.86424999999997" x2="485.2" y2="416.34575" stroke="#231f20" stroke-width="1.5" />
<line x1="480.0" y1="406.86424999999997" x2="490.4" y2="406.86424999999997" stroke="#231f20" stroke-width="1.5" />
<line x1="480.0" y1="416.34575" x2="490.4" y2="416.34575" stroke="#231f20" stroke-width="1.5" />
<line x1="428.2" y1="314.0" x2="457.0" y2="314.0" stroke="#4a4a4a" stroke-width="1.5" />
<line x1="460.4" y1="314.0" x2="489.6" y2="314.0" stroke="#4a4a4a" stroke-width="1.5" />
<text x="418.0" y="310.4" font-size="9.4" text-anchor="start" font-weight="normal" fill="#231f20" >p=0.0310</text>
<text x="460.4" y="310.4" font-size="9.4" text-anchor="start" font-weight="normal" fill="#231f20" >p=0.0179</text>
<text x="520.7" y="265.6" font-size="17" text-anchor="start" font-weight="bold" fill="#000" >f</text>
<text x="623.5" y="281.3" font-size="15.2" text-anchor="middle" font-weight="normal" fill="#231f20" stroke="#231f20" stroke-width="0.18" >Bone Marrow</text>
<text x="0" y="0" font-size="13.7" text-anchor="middle" font-weight="bold" fill="#000" style="font-kerning:normal;font-feature-settings:normal" transform="translate(534.6,366.6) rotate(-90)">%OVA Tetramer+ CD8+</text>
<line x1="558.7" y1="288.59999999999997" x2="558.7" y2="440.4" stroke="#4d4d4f" stroke-width="1.4" />
<line x1="554.5" y1="440.4" x2="558.7" y2="440.4" stroke="#4d4d4f" stroke-width="1.4" />
<text x="0" y="0" font-size="12.0" text-anchor="end" fill="#231f20" stroke="#231f20" stroke-width="0.16" transform="translate(553.60,444.60) scale(1,1.14)">0</text>
<line x1="554.5" y1="402.59999999999997" x2="558.7" y2="402.59999999999997" stroke="#4d4d4f" stroke-width="1.4" />
<text x="0" y="0" font-size="12.0" text-anchor="end" fill="#231f20" stroke="#231f20" stroke-width="0.16" transform="translate(553.60,406.80) scale(1,1.14)">5</text>
<line x1="554.5" y1="364.79999999999995" x2="558.7" y2="364.79999999999995" stroke="#4d4d4f" stroke-width="1.4" />
<text x="0" y="0" font-size="12.0" text-anchor="end" fill="#231f20" stroke="#231f20" stroke-width="0.16" transform="translate(553.60,369.00) scale(1,1.14)">10</text>
<line x1="554.5" y1="327.0" x2="558.7" y2="327.0" stroke="#4d4d4f" stroke-width="1.4" />
<text x="0" y="0" font-size="12.0" text-anchor="end" fill="#231f20" stroke="#231f20" stroke-width="0.16" transform="translate(553.60,331.20) scale(1,1.14)">15</text>
<line x1="554.5" y1="289.2" x2="558.7" y2="289.2" stroke="#4d4d4f" stroke-width="1.4" />
<text x="0" y="0" font-size="12.0" text-anchor="end" fill="#231f20" stroke="#231f20" stroke-width="0.16" transform="translate(553.60,293.40) scale(1,1.14)">20</text>
<line x1="558.7" y1="440.4" x2="686" y2="440.4" stroke="#4d4d4f" stroke-width="1.4" />
<line x1="577.9" y1="440.4" x2="577.9" y2="445.5" stroke="#4d4d4f" stroke-width="1.4" />
<line x1="607.2" y1="440.4" x2="607.2" y2="445.5" stroke="#4d4d4f" stroke-width="1.4" />
<line x1="636.4" y1="440.4" x2="636.4" y2="445.5" stroke="#4d4d4f" stroke-width="1.4" />
<line x1="665.4" y1="440.4" x2="665.4" y2="445.5" stroke="#4d4d4f" stroke-width="1.4" />
<text x="0" y="0" font-size="14.0" text-anchor="end" fill="#231f20" stroke="#231f20" stroke-width="0.22" transform="translate(582.50,454.40) rotate(-45)">Medium</text>
<text x="0" y="0" font-size="14.0" text-anchor="end" fill="#231f20" stroke="#231f20" stroke-width="0.22" transform="translate(613.60,456.40) rotate(-45)">OVA</text>
<text x="0" y="0" font-size="14.0" text-anchor="end" fill="#231f20" stroke="#231f20" stroke-width="0.22" transform="translate(640.50,457.40) rotate(-45)">Cis</text>
<text x="0" y="0" font-size="14.0" text-anchor="end" fill="#231f20" stroke="#231f20" stroke-width="0.22" transform="translate(672.30,456.00) rotate(-45)">Trans</text>
<circle cx="577.9" cy="427.926" r="2.45" fill="#000" stroke="none" stroke-width="0"/>
<circle cx="570.9" cy="438.888" r="2.45" fill="#000" stroke="none" stroke-width="0"/>
<circle cx="584.9" cy="438.888" r="2.45" fill="#000" stroke="none" stroke-width="0"/>
<circle cx="574.4" cy="437.75399999999996" r="2.45" fill="#000" stroke="none" stroke-width="0"/>
<circle cx="581.4" cy="438.132" r="2.45" fill="#000" stroke="none" stroke-width="0"/>
<circle cx="577.9" cy="437.376" r="2.45" fill="#000" stroke="none" stroke-width="0"/>
<line x1="568.3" y1="436.998" x2="587.5" y2="436.998" stroke="#231f20" stroke-width="1.5" />
<line x1="577.9" y1="435.108" x2="577.9" y2="438.888" stroke="#231f20" stroke-width="1.5" />
<line x1="572.6999999999999" y1="435.108" x2="583.1" y2="435.108" stroke="#231f20" stroke-width="1.5" />
<line x1="572.6999999999999" y1="438.888" x2="583.1" y2="438.888" stroke="#231f20" stroke-width="1.5" />
<circle cx="607.2" cy="386.724" r="2.45" fill="#000" stroke="none" stroke-width="0"/>
<circle cx="600.0" cy="404.64119999999997" r="2.45" fill="#000" stroke="none" stroke-width="0"/>
<circle cx="614.4000000000001" cy="407.96759999999995" r="2.45" fill="#000" stroke="none" stroke-width="0"/>
<circle cx="600.0" cy="412.7304" r="2.45" fill="#000" stroke="none" stroke-width="0"/>
<circle cx="614.4000000000001" cy="413.7132" r="2.45" fill="#000" stroke="none" stroke-width="0"/>
<circle cx="607.2" cy="431.0256" r="2.45" fill="#000" stroke="none" stroke-width="0"/>
<line x1="597.6" y1="409.404" x2="616.8000000000001" y2="409.404" stroke="#231f20" stroke-width="1.5" />
<line x1="607.2" y1="403.356" x2="607.2" y2="415.452" stroke="#231f20" stroke-width="1.5" />
<line x1="602.0" y1="403.356" x2="612.4000000000001" y2="403.356" stroke="#231f20" stroke-width="1.5" />
<line x1="602.0" y1="415.452" x2="612.4000000000001" y2="415.452" stroke="#231f20" stroke-width="1.5" />
<circle cx="636.4" cy="330.9312" r="2.45" fill="#000" stroke="none" stroke-width="0"/>
<circle cx="629.0" cy="362.532" r="2.45" fill="#000" stroke="none" stroke-width="0"/>
<circle cx="636.4" cy="364.044" r="2.45" fill="#000" stroke="none" stroke-width="0"/>
<circle cx="643.6999999999999" cy="359.508" r="2.45" fill="#000" stroke="none" stroke-width="0"/>
<circle cx="632.1999999999999" cy="385.3632" r="2.45" fill="#000" stroke="none" stroke-width="0"/>
<circle cx="639.6" cy="387.85799999999995" r="2.45" fill="#000" stroke="none" stroke-width="0"/>
<circle cx="636.4" cy="413.10839999999996" r="2.45" fill="#000" stroke="none" stroke-width="0"/>
<line x1="626.8" y1="371.75519999999995" x2="646.0" y2="371.75519999999995" stroke="#231f20" stroke-width="1.5" />
<line x1="636.4" y1="361.92719999999997" x2="636.4" y2="381.5832" stroke="#231f20" stroke-width="1.5" />
<line x1="631.1999999999999" y1="361.92719999999997" x2="641.6" y2="361.92719999999997" stroke="#231f20" stroke-width="1.5" />
<line x1="631.1999999999999" y1="381.5832" x2="641.6" y2="381.5832" stroke="#231f20" stroke-width="1.5" />
<circle cx="665.4" cy="371.75519999999995" r="2.45" fill="#000" stroke="none" stroke-width="0"/>
<circle cx="665.4" cy="395.796" r="2.45" fill="#000" stroke="none" stroke-width="0"/>
<circle cx="658.0" cy="406.9092" r="2.45" fill="#000" stroke="none" stroke-width="0"/>
<circle cx="665.4" cy="406.2288" r="2.45" fill="#000" stroke="none" stroke-width="0"/>
<circle cx="672.6999999999999" cy="411.14279999999997" r="2.45" fill="#000" stroke="none" stroke-width="0"/>
<circle cx="665.4" cy="420.06359999999995" r="2.45" fill="#000" stroke="none" stroke-width="0"/>
<circle cx="665.4" cy="426.792" r="2.45" fill="#000" stroke="none" stroke-width="0"/>
<line x1="655.8" y1="405.6996" x2="675.0" y2="405.6996" stroke="#231f20" stroke-width="1.5" />
<line x1="665.4" y1="398.8956" x2="665.4" y2="412.5036" stroke="#231f20" stroke-width="1.5" />
<line x1="660.1999999999999" y1="398.8956" x2="670.6" y2="398.8956" stroke="#231f20" stroke-width="1.5" />
<line x1="660.1999999999999" y1="412.5036" x2="670.6" y2="412.5036" stroke="#231f20" stroke-width="1.5" />
<line x1="606.6" y1="317.0" x2="636.3" y2="317.0" stroke="#4a4a4a" stroke-width="1.5" />
<line x1="638.8" y1="317.0" x2="669.9" y2="317.0" stroke="#4a4a4a" stroke-width="1.5" />
<text x="597.7" y="313.4" font-size="9.4" text-anchor="start" font-weight="normal" fill="#231f20" >p=0.0009</text>
<text x="638.8" y="313.4" font-size="9.4" text-anchor="start" font-weight="normal" fill="#231f20" >p=0.0016</text>
</svg>
</body></html>
